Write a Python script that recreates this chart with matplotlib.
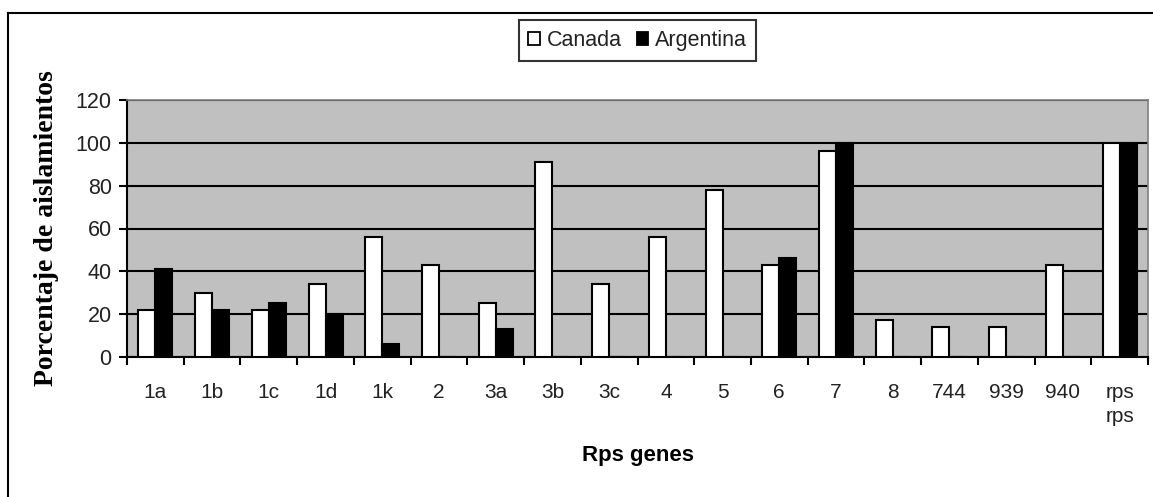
import matplotlib
matplotlib.use("Agg")
import matplotlib.pyplot as plt
from matplotlib.patches import Patch
from matplotlib.lines import Line2D
import numpy as np

categories = ["1a", "1b", "1c", "1d", "1k", "2", "3a", "3b", "3c", "4", "5", "6", "7",
              "8", "744", "939", "940", "rps\nrps"]
canada = [22, 30, 22, 34, 56, 43, 25, 91, 34, 56, 78, 43, 96, 17.5, 14, 14, 43, 100]
argentina = [41, 22, 25, 20, 6, 0, 13, 0, 0, 0, 0, 46, 100, 0, 0, 0, 0, 100]
series_names = ["Canada", "Argentina"]
yticks = [0, 20, 40, 60, 80, 100, 120]

W, H = 1153, 497
fig = plt.figure(figsize=(W / 100, H / 100), dpi=100)
fig.patch.set_facecolor("white")

left, right, top, bottom = 127, 1148, 100, 357
ax = fig.add_axes([left / W, 1 - bottom / H, (right - left) / W, (bottom - top) / H])
ax.set_facecolor("#C0C0C0")

x = np.arange(1, len(categories) + 1)
bw = 0.3
ax.set_axisbelow(True)
ax.bar(x - bw / 2, canada, bw, color="white", edgecolor="black", linewidth=1.5, zorder=3)
ax.bar(x + bw / 2, argentina, bw, color="black", edgecolor="black", linewidth=1.5, zorder=3)

ax.set_xlim(0.5, len(categories) + 0.5)
ax.set_ylim(0, 120)
ax.set_yticks(yticks)
ax.yaxis.grid(True, color="black", linewidth=1.5)
ax.tick_params(axis="y", direction="out", length=6, width=1.5, labelsize=15.5, pad=5)

ax.set_xticks(np.arange(0.5, len(categories) + 1, 1.0))
ax.set_xticklabels([])
ax.set_xticks(x, minor=True)
ax.set_xticklabels(categories, minor=True, fontsize=15, linespacing=1.3, va="top")
ax.tick_params(axis="x", which="major", direction="out", length=6, width=1.5)
ax.tick_params(axis="x", which="minor", length=0, pad=19)

for lab in ax.get_yticklabels() + ax.get_xticklabels(minor=True):
    lab.set_family("Liberation Sans")
    lab.set_color("#222222")

for s in ["left", "bottom"]:
    ax.spines[s].set_color("black")
    ax.spines[s].set_linewidth(1.5)
for s in ["top", "right"]:
    ax.spines[s].set_color("#808080")
    ax.spines[s].set_linewidth(1.2)

ax.set_ylabel("Porcentaje de aislamientos", fontsize=20, fontweight="bold",
              family="Liberation Serif", labelpad=12)
ax.set_xlabel("Rps genes", fontsize=16, fontweight="bold", family="Liberation Sans",
              labelpad=14)

handles = [Patch(facecolor="white", edgecolor="black", linewidth=1.3),
           Patch(facecolor="black", edgecolor="black", linewidth=1.3)]
leg = fig.legend(handles, series_names, loc="center", bbox_to_anchor=(637.5 / W, 1 - 40.5 / H),
                 ncol=2, frameon=True, fancybox=False, edgecolor="black",
                 prop={"family": "Liberation Sans", "size": 15.5},
                 handlelength=0.55, handleheight=0.55, handletextpad=0.3,
                 columnspacing=0.7, borderpad=0.45, borderaxespad=0)
leg.get_frame().set_linewidth(1.5)
for t in leg.get_texts():
    t.set_color("#222222")

# outer frame of the chart
fig.add_artist(Line2D([8 / W, 1.0], [1 - 13 / H, 1 - 13 / H], color="black", linewidth=1.5,
                      transform=fig.transFigure))
fig.add_artist(Line2D([8 / W, 8 / W], [0, 1 - 13 / H], color="black", linewidth=1.5,
                      transform=fig.transFigure))

fig.savefig("out.png", dpi=100)
